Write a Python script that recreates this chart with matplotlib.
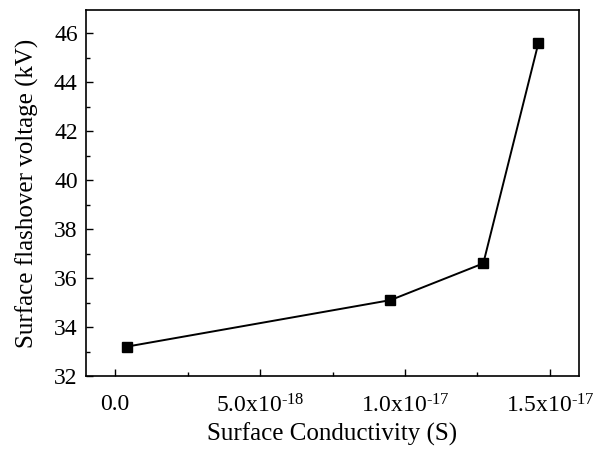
import matplotlib.pyplot as plt
from matplotlib.ticker import MultipleLocator, FixedFormatter, FixedLocator

# Data
conductivity = [4.1e-19, 9.5e-18, 1.27e-17, 1.46e-17]
voltage = [33.2, 35.1, 36.6, 45.6]

x_ticks = [0.0, 5.0e-18, 1.0e-17, 1.5e-17]
x_tick_labels = ["0.0", r"5.0x10$^{\text{-18}}$", r"1.0x10$^{\text{-17}}$",
                 r"1.5x10$^{\text{-17}}$"]

plt.rcParams["font.family"] = "Liberation Serif"
plt.rcParams["mathtext.fontset"] = "custom"
plt.rcParams["mathtext.rm"] = "Liberation Serif"
plt.rcParams["mathtext.it"] = "Liberation Serif"

fig = plt.figure(figsize=(5.93, 4.5), dpi=100)
ax = fig.add_axes([86 / 593, 1 - 376 / 450, (579 - 86) / 593, (376 - 10) / 450])

ax.plot(conductivity, voltage, color="black", linewidth=1.4,
        marker="s", markersize=7)

ax.set_xlim(-1.0e-18, 1.6e-17)
ax.set_ylim(32, 46.95)

ax.xaxis.set_major_locator(FixedLocator(x_ticks))
ax.xaxis.set_major_formatter(FixedFormatter(x_tick_labels))
ax.xaxis.set_minor_locator(MultipleLocator(2.5e-18))
ax.yaxis.set_major_locator(MultipleLocator(2))
ax.yaxis.set_minor_locator(MultipleLocator(1))

ax.tick_params(which="both", direction="in", labelsize=17, width=1)
ax.tick_params(which="major", length=5)
ax.tick_params(which="minor", length=3)
ax.tick_params(axis="x", pad=13)
ax.tick_params(axis="y", pad=6)

for s in ax.spines.values():
    s.set_linewidth(1.2)

ax.set_xlabel("Surface Conductivity (S)", fontsize=18, labelpad=4)
ax.set_ylabel("Surface flashover voltage (kV)", fontsize=18, labelpad=11)

fig.savefig("out.png", dpi=100)
